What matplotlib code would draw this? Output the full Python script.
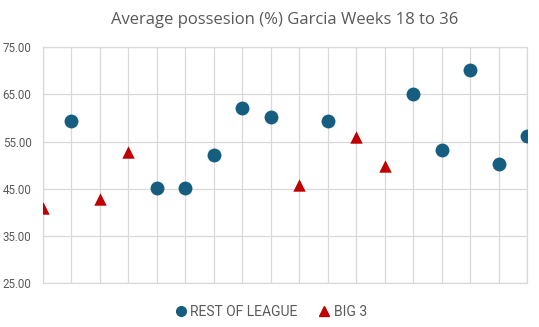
"""Scatter of average possession per week, Garcia weeks 18 to 36."""

import matplotlib.pyplot as plt
from matplotlib.lines import Line2D

# game index (no x labels shown in the original chart)
rest_x = [2, 5, 6, 7, 8, 9, 11, 14, 15, 16, 17, 18]
rest_y = [59.4, 45.2, 45.2, 52.2, 62.1, 60.2, 59.4, 65.2, 53.2, 70.2, 50.2, 56.3]

big3_x = [1, 3, 4, 10, 12, 13]
big3_y = [40.9, 42.9, 52.9, 45.9, 55.9, 49.8]

yticks = [25, 35, 45, 55, 65, 75]

blue = '#165e80'
red = '#c00000'
grid = '#d9d9d9'
text_col = '#595959'

fig = plt.figure(figsize=(5.39, 3.27), dpi=100)
ax = fig.add_axes([0.0792, 0.1336, 0.8988, 0.7218])

ax.scatter(rest_x, rest_y, s=100, marker='o', color=blue, zorder=3, linewidths=0)
ax.scatter(big3_x, big3_y, s=80, marker='^', color=red, zorder=3, linewidths=0)

ax.set_xlim(1, 18)
ax.set_ylim(25, 75)
ax.set_xticks(range(1, 19))
ax.set_yticks(yticks)
ax.set_xticklabels([])
ax.set_yticklabels(['%.2f' % v for v in yticks], fontsize=8.3, color=text_col,
                   family='Roboto')
ax.tick_params(length=0, pad=8)
ax.grid(True, color=grid, linewidth=0.9, zorder=0)
for s in ax.spines.values():
    s.set_color(grid)
    s.set_linewidth(0.9)
ax.set_axisbelow(True)

ax.set_title('Average possesion (%) Garcia Weeks 18 to 36', fontsize=12,
             color=text_col, family='Open Sans', pad=17)

handles = [
    Line2D([], [], marker='o', linestyle='none', color=blue, markersize=7),
    Line2D([], [], marker='^', linestyle='none', color=red, markersize=7),
]
fig.legend(handles, ['REST OF LEAGUE', 'BIG 3'], loc='center',
           bbox_to_anchor=(0.5, 0.046), ncol=2, frameon=False,
           prop={'family': 'Roboto', 'size': 10}, labelcolor=text_col,
           handletextpad=0.1, columnspacing=1.3, handlelength=1.2)

fig.savefig('out.png', dpi=100)
